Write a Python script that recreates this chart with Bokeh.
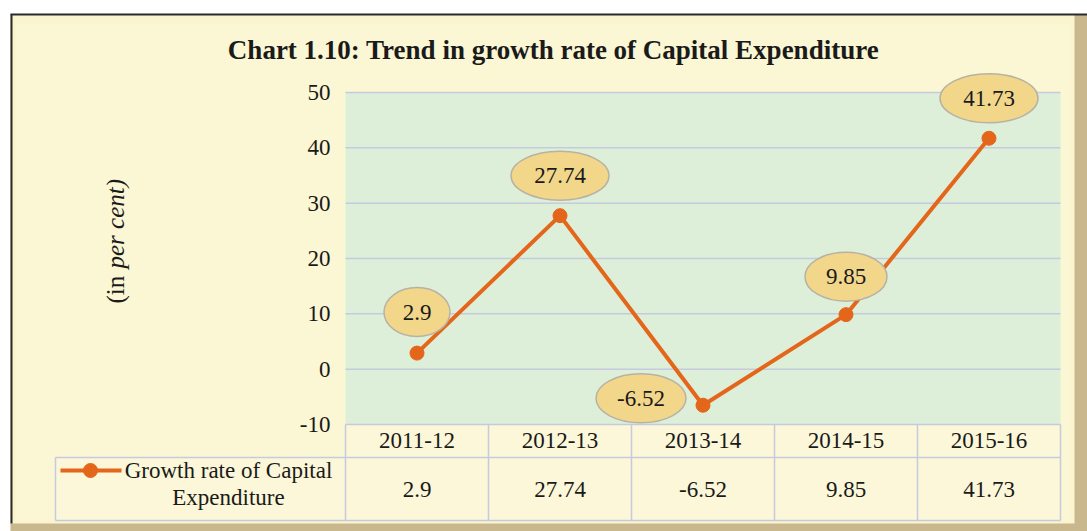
import math
from bokeh.plotting import figure
from bokeh.embed import file_html
from bokeh.resources import INLINE
from bokeh.core.properties import value
from bokeh.models import ColumnDataSource, Range1d

# ---------------- data ----------------
categories = ["2011-12", "2012-13", "2013-14", "2014-15", "2015-16"]
growth = [2.9, 27.74, -6.52, 9.85, 41.73]
y_ticks = [50, 40, 30, 20, 10, 0, -10]
series_name_lines = ["Growth rate of Capital", "Expenditure"]
title_text = "Chart 1.10: Trend in growth rate of Capital Expenditure"
y_label_parts = ["(in ", "per cent)"]

# ---------------- layout (screen pixels -> data units) ----------------
W, H = 1087, 531
PXX = 143.0          # pixels per category
PXY = 5.533          # pixels per percentage point
X0 = 345             # screen x of category axis start
YTOP = 92            # screen y of the top tick
ymin, ymax = min(y_ticks), max(y_ticks)
n = len(categories)


def sx(px):
    return (px - X0) / PXX


def sy(py):
    return ymax - (py - YTOP) / PXY


FONT = value("Liberation Serif")
PANEL = "#FAF5CE"
GREEN = "#DDEFD9"
CELL = "#FBF7D8"
GRID = "#C6CADF"
ORANGE = "#E4661B"
BUBBLE = "#F2D78B"
TXT = "#1A1A1A"

label_dx_px = [0, 0, -62, 0, 0]
label_dy_px = [41, 40, 7, 38, 40]
char_w = {"-": 8, ".": 6}

p = figure(width=W, height=H,
           x_range=Range1d(sx(0), sx(W)), y_range=Range1d(sy(H), sy(0)),
           x_axis_type=None, y_axis_type=None,
           output_backend="svg", toolbar_location=None,
           min_border=0)
p.border_fill_color = "white"
p.background_fill_color = "white"
p.outline_line_color = None
p.grid.visible = False

# panel with frame edges
p.quad(left=[sx(10)], right=[sx(1087)], bottom=[sy(531)], top=[sy(14)],
       fill_color="#C9B88E", line_color=None)
p.quad(left=[sx(10)], right=[sx(1074)], bottom=[sy(523)], top=[sy(14)],
       fill_color=PANEL, line_color=None)
p.quad(left=[sx(16)], right=[sx(1070)], bottom=[sy(519)], top=[sy(24)],
       fill_color="#FBF6D3", line_color=None)
p.segment(x0=[sx(10), sx(11)], x1=[sx(1087), sx(11)],
          y0=[sy(14), sy(14)], y1=[sy(14), sy(523)],
          line_color="#2A2A2A", line_width=2)

head_bottom = sy(457)
table_bottom = sy(520)
legend_left = sx(55)

# plot area
p.quad(left=[0], right=[n], bottom=[ymin], top=[ymax],
       fill_color=GREEN, line_color=None)
# table cells
p.quad(left=[0], right=[n], bottom=[head_bottom], top=[ymin],
       fill_color=CELL, line_color=None)
p.quad(left=[legend_left], right=[n], bottom=[table_bottom], top=[head_bottom],
       fill_color=CELL, line_color=None)

# gridlines
p.segment(x0=[0] * len(y_ticks), x1=[n] * len(y_ticks), y0=y_ticks, y1=y_ticks,
          line_color=GRID, line_width=1.5)
# table lines
p.segment(x0=[legend_left, legend_left], x1=[n, n],
          y0=[head_bottom, table_bottom], y1=[head_bottom, table_bottom],
          line_color=GRID, line_width=1.5)
vx = list(range(n + 1))
p.segment(x0=vx, x1=vx, y0=[table_bottom] * len(vx), y1=[ymin] * len(vx),
          line_color=GRID, line_width=1.5)
p.segment(x0=[legend_left], x1=[legend_left], y0=[table_bottom], y1=[head_bottom],
          line_color=GRID, line_width=1.5)

# series
xc = [i + 0.5 for i in range(n)]
src = ColumnDataSource(dict(x=xc, y=growth))
p.line("x", "y", source=src, line_color=ORANGE, line_width=4)
p.scatter("x", "y", source=src, size=14, marker="circle",
          fill_color=ORANGE, line_color=ORANGE)

# data labels
lab_txt = [f"{v:g}" for v in growth]
lab_x = [x + dx / PXX for x, dx in zip(xc, label_dx_px)]
lab_y = [y + dy / PXY for y, dy in zip(growth, label_dy_px)]
lab_w = [sum(char_w.get(c, 16) for c in t) + 28 for t in lab_txt]
p.ellipse(x=lab_x, y=lab_y, width=lab_w, height=[49] * n,
          width_units="screen", height_units="screen",
          fill_color=BUBBLE, line_color="#B8B2A4", line_width=1.5)
p.text(x=lab_x, y=lab_y, text=lab_txt, text_font=FONT, text_font_size="23px",
       text_align="center", text_baseline="middle", text_color=TXT)

# title
p.text(x=[sx(553)], y=[sy(49)], text=[title_text], text_font=FONT,
       text_font_size="27px", text_font_style="bold", text_align="center",
       text_baseline="middle", text_color=TXT)

# y tick labels
p.text(x=[sx(330)] * len(y_ticks), y=y_ticks, text=[str(t) for t in y_ticks],
       text_font=FONT, text_font_size="23px", text_align="right",
       text_baseline="middle", text_color=TXT)

# y axis title (rotated)
p.text(x=[sx(115)], y=[sy(303)], text=[y_label_parts[0]], text_font=FONT,
       text_font_size="25px", angle=math.pi / 2, text_align="left",
       text_baseline="middle", text_color=TXT)
p.text(x=[sx(115)], y=[sy(268)], text=[y_label_parts[1]], text_font=FONT,
       text_font_size="25px", text_font_style="italic", angle=math.pi / 2,
       text_align="left", text_baseline="middle", text_color=TXT)

# table header and values
p.text(x=xc, y=[sy(440)] * n, text=categories, text_font=FONT,
       text_font_size="23px", text_align="center", text_baseline="middle",
       text_color=TXT)
p.text(x=xc, y=[sy(489)] * n, text=lab_txt, text_font=FONT,
       text_font_size="23px", text_align="center", text_baseline="middle",
       text_color=TXT)

# legend cell
p.segment(x0=[sx(60)], x1=[sx(121)], y0=[sy(470)], y1=[sy(470)],
          line_color=ORANGE, line_width=4)
p.scatter(x=[sx(90)], y=[sy(470)], size=14, marker="circle",
          fill_color=ORANGE, line_color=ORANGE)
p.text(x=[sx(228), sx(228)], y=[sy(470), sy(497)], text=series_name_lines,
       text_font=FONT, text_font_size="23px", text_align="center",
       text_baseline="middle", text_color=TXT)

open("out.html", "w").write(file_html(p, INLINE))
